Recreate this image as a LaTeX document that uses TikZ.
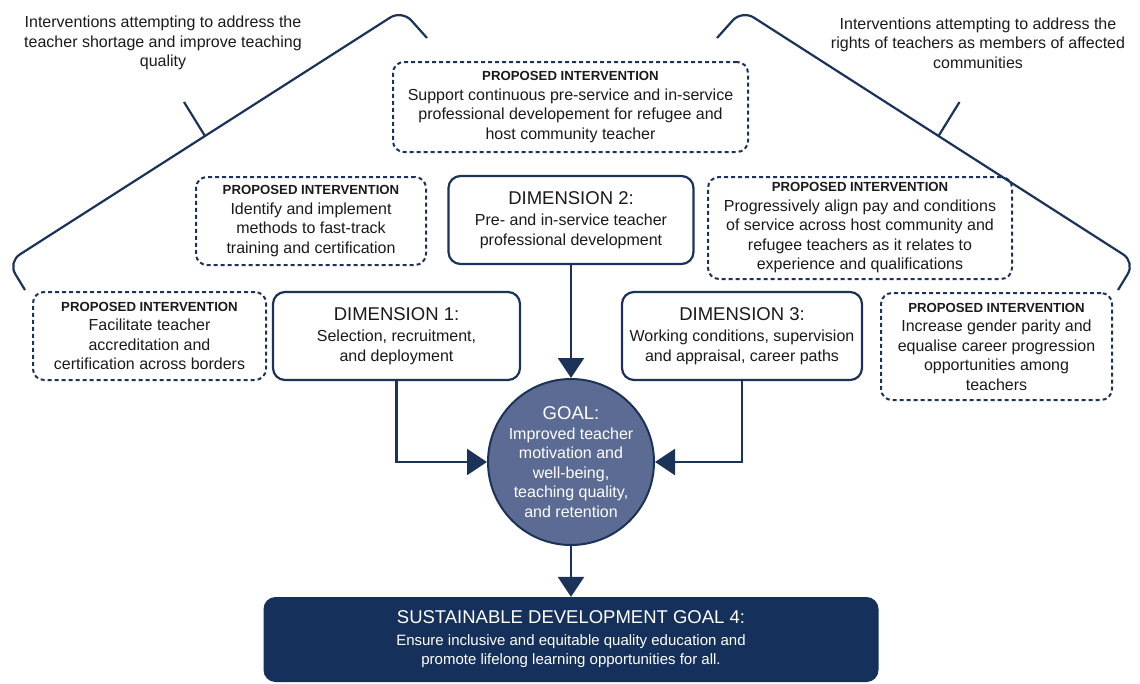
\documentclass[tikz,border=0pt]{standalone}
\usepackage{fontspec}
\setmainfont{Liberation Sans}
\usetikzlibrary{arrows.meta,calc}
\definecolor{navy}{HTML}{1B3259}
\definecolor{goalfill}{HTML}{5B6B94}
\definecolor{sdgfill}{HTML}{15305A}
\definecolor{txt}{HTML}{1A1A1A}
\newcommand\bodyf{\fontsize{16}{19.5}\selectfont}
\newcommand\sdgf{\fontsize{15}{19.5}\selectfont}
\newcommand\pihead{\fontsize{13.2}{19.5}\selectfont\bfseries}
\newcommand\dimhead{\fontsize{18.5}{21}\selectfont}
\tikzset{
  pibox/.style={draw=navy, line width=2pt, dash pattern=on 4pt off 3pt, rounded corners=11pt, align=center, text=txt, font=\bodyf, inner sep=2pt},
  dimbox/.style={draw=navy, line width=2.2pt, rounded corners=12pt, align=center, text=txt, font=\bodyf, inner sep=2pt, fill=white},
  goalnode/.style={circle, draw=navy, line width=2pt, fill=goalfill, minimum size=156pt, inner sep=0pt, align=center, text=white, font=\bodyf},
  sdgbox/.style={rounded corners=12pt, fill=sdgfill, align=center, text=white, inner sep=2pt, font=\sdgf},
  brace/.style={draw=navy, line width=2.2pt, rounded corners=14pt},
  tick/.style={draw=navy, line width=2.2pt},
  flow/.style={draw=navy, line width=2.5pt, -{Triangle[length=20pt,width=26pt]}},
  toptext/.style={align=center, text=txt, font=\bodyf},
}
\begin{document}
\begin{tikzpicture}[x=1pt, y=-1pt]
\useasboundingbox (0,0) rectangle (1140,683);

% braces
\coordinate (la) at (427,38);
\coordinate (lb) at (402,10);
\coordinate (lc) at (8,262);
\coordinate (ld) at (25,290);
\draw[brace] (la) -- (lb) -- (lc) -- (ld);
\draw[tick] ($(lb)!0.5!(lc)$) -- ++(-21,-34);

\coordinate (ra) at (717,38);
\coordinate (rb) at (742,10);
\coordinate (rc) at (1135,262);
\coordinate (rd) at (1118,290);
\draw[brace] (ra) -- (rb) -- (rc) -- (rd);
\draw[tick] ($(rb)!0.5!(rc)$) -- ++(21,-34);

% top texts
\node[toptext] (tl) at (163,43) {Interventions attempting to address the\\teacher shortage and improve teaching\\quality};
\node[toptext] (tr) at (978,43) {Interventions attempting to address the\\rights of teachers as members of affected\\communities};

% proposed interventions
\node[pibox, minimum width=355pt, minimum height=90pt] (pitop) at (570.5,107)
  {{\pihead PROPOSED INTERVENTION}\\Support continuous pre-service and in-service\\professional developement for refugee and\\host community teacher};
\node[pibox, minimum width=230pt, minimum height=88pt] (pifast) at (311,221)
  {{\pihead PROPOSED INTERVENTION}\\Identify and implement\\methods to fast-track\\training and certification};
\node[pibox, minimum width=304pt, minimum height=102pt] (pipay) at (860,228)
  {{\pihead PROPOSED INTERVENTION}\\Progressively align pay and conditions\\of service across host community and\\refugee teachers as it relates to\\experience and qualifications};
\node[pibox, minimum width=233pt, minimum height=88pt] (piacc) at (149.5,336)
  {{\pihead PROPOSED INTERVENTION}\\Facilitate teacher\\accreditation and\\certification across borders};
\node[pibox, minimum width=231pt, minimum height=107pt] (pigen) at (996.5,346.5)
  {{\pihead PROPOSED INTERVENTION}\\Increase gender parity and\\equalise career progression\\opportunities among\\teachers};

% dimensions
\node[dimbox, minimum width=245pt, minimum height=88pt] (dim2) at (571,220)
  {{\dimhead DIMENSION 2:}\\[2pt]Pre- and in-service teacher\\professional development};
\node[dimbox, minimum width=247pt, minimum height=88pt] (dim1) at (396.5,336)
  {{\dimhead DIMENSION 1:}\\[2pt]Selection, recruitment,\\and deployment};
\node[dimbox, minimum width=240pt, minimum height=88pt] (dim3) at (742,336)
  {{\dimhead DIMENSION 3:}\\[2pt]Working conditions, supervision\\and appraisal, career paths};

% goal
\node[goalnode] (goal) at (571,462)
  {{\fontsize{18.5}{21}\selectfont GOAL:}\\Improved teacher\\motivation and\\well-being,\\teaching quality,\\and retention};

% SDG
\node[sdgbox, minimum width=615pt, minimum height=85pt] (sdg) at (571,639.5)
  {{\fontsize{18.5}{23}\selectfont SUSTAINABLE DEVELOPMENT GOAL 4:}\\[2pt]Ensure inclusive and equitable quality education and\\promote lifelong learning opportunities for all.};

% arrows
\draw[flow] (dim2.south) -- (goal.north);
\draw[flow] (dim1.south) |- (goal.west);
\draw[flow] (dim3.south) |- (goal.east);
\draw[flow] (goal.south) -- (sdg.north);
\end{tikzpicture}
\end{document}
